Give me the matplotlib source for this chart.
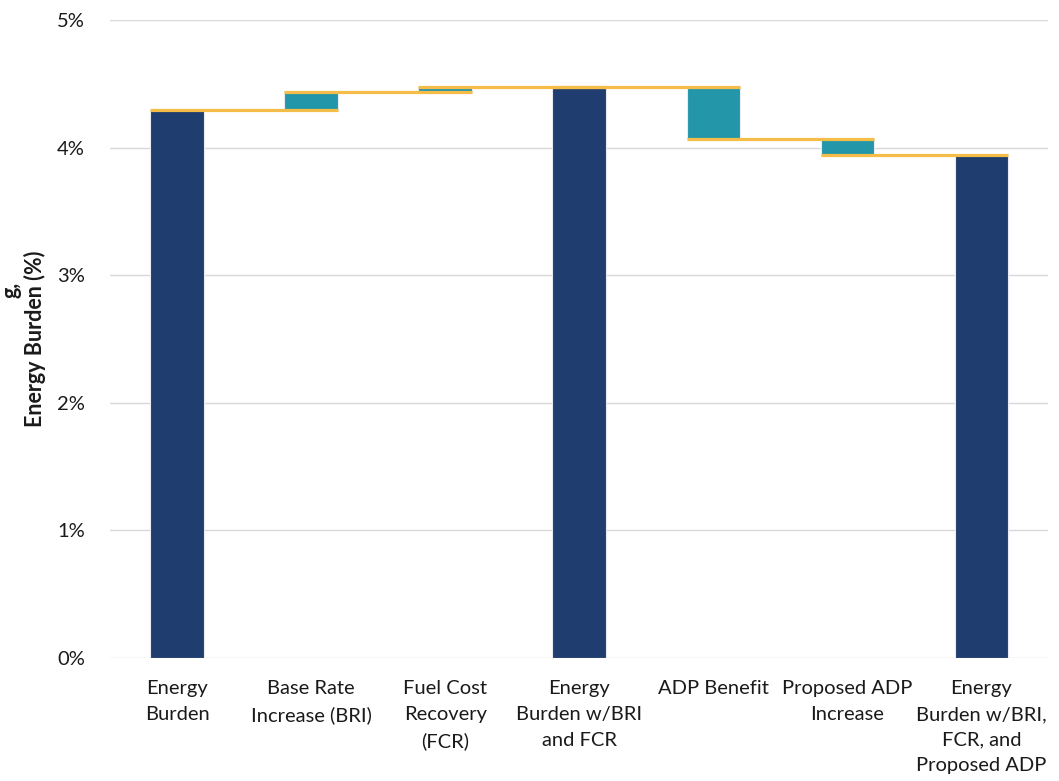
import matplotlib.pyplot as plt
import numpy as np

# waterfall data (percent)
categories = [
    "Energy\nBurden",
    "Base Rate\nIncrease (BRI)",
    "Fuel Cost\nRecovery\n(FCR)",
    "Energy\nBurden w/BRI\nand FCR",
    "ADP Benefit",
    "Proposed ADP\nIncrease",
    "Energy\nBurden w/BRI,\nFCR, and\nProposed ADP",
]
# 'total' bars show the running total, 'delta' bars float
kinds = ["total", "delta", "delta", "total", "delta", "delta", "total"]
deltas = [4.30, 0.135, 0.045, 0.0, -0.41, -0.13, 0.0]

navy = "#1F3D6F"
teal = "#2397A9"
gold = "#F5BD48"

plt.rcParams['font.family'] = ['Lato', 'DejaVu Sans']

fig = plt.figure(figsize=(10.59, 7.81), dpi=100)
ax = fig.add_axes([0.104, 0.1575, 0.886, 0.8165])

x = np.arange(len(categories))
width = 0.4
running = 0.0
ends = []
for i, (kind, d) in enumerate(zip(kinds, deltas)):
    if kind == "total":
        running += d
        ax.bar(i, running, width, color=navy, edgecolor="#E8ECF2",
               linewidth=0.8, zorder=2)
    else:
        start = running
        running += d
        ax.bar(i, running - start, width, bottom=start, color=teal,
               edgecolor="#E8ECF2", linewidth=0.8, zorder=2)
    ends.append(running)

# connector lines
for i in range(len(categories) - 1):
    ax.hlines(ends[i], i - width / 2, i + 1 + width / 2, color=gold,
              linewidth=2.3, zorder=3)

ax.set_xlim(-0.5, len(categories) - 0.5)
ax.set_ylim(0, 5)
ax.set_yticks(np.arange(0, 6, 1))
ax.set_yticklabels([f"{v}%" for v in range(6)])
ax.set_xticks(x)
ax.set_xticklabels(categories, va="top", linespacing=1.62)
ax.yaxis.grid(True, color="#D9D9D9", linewidth=1.0, zorder=0)
ax.set_axisbelow(True)
for s in ax.spines.values():
    s.set_visible(False)
ax.tick_params(axis="both", length=0, labelsize=14.5, colors="#1A1A1A")
ax.tick_params(axis="x", pad=16)
ax.tick_params(axis="y", pad=18)

ax.set_ylabel("Energy Burden (%)", fontsize=15.5, fontweight="bold",
              color="#1A1A1A", labelpad=8)
# fragment of a second label line at the left edge
fig.text(0.0005, 0.629, "g,", rotation=90, fontsize=15.5, fontweight="bold",
         color="#1A1A1A", ha="left", va="center")

fig.savefig("out.png", dpi=100)
